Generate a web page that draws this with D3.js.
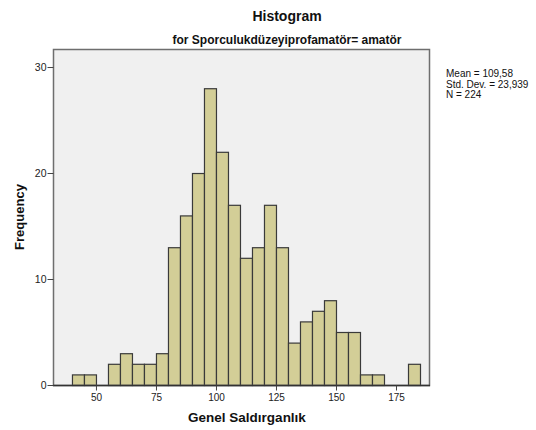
<!DOCTYPE html>
<html><head><meta charset="utf-8">
<script src="https://cdn.jsdelivr.net/npm/d3@7"></script>
<style>body{margin:0;background:#fff;font-family:"Liberation Sans",Arial,sans-serif;}</style>
</head><body>
<svg id="c" width="536" height="430"></svg>
<script>
const binStarts = [40,45,50,55,60,65,70,75,80,85,90,95,100,105,110,115,120,125,130,135,140,145,150,155,160,165,170,175,180];
const counts    = [1,1,0,2,3,2,2,3,13,16,20,28,22,17,12,13,17,13,4,6,7,8,5,5,1,1,0,0,2];
const binWidth = 5;
const xTicks = [50,75,100,125,150,175];
const yTicks = [0,10,20,30];
const statsLines = ["Mean = 109,58","Std. Dev. = 23,939","N = 224"];

const svg = d3.select("#c");
const L=53, R=429, T=49, B=385;
const x = d3.scaleLinear().domain([32.1,188.75]).range([L,R]);
const y = d3.scaleLinear().domain([0,31.7]).range([B,T]);

svg.append("rect").attr("x",L).attr("y",T).attr("width",R-L).attr("height",B-T)
  .attr("fill","#f0f0f0").attr("stroke","none");

const data = binStarts.map((s,i)=>({s, c:counts[i]})).filter(d=>d.c>0);
svg.append("g").selectAll("rect").data(data).join("rect")
  .attr("x",d=>x(d.s)+0.5).attr("y",d=>y(d.c)+0.5)
  .attr("width",d=>x(d.s+binWidth)-x(d.s)).attr("height",d=>B-y(d.c))
  .attr("fill","#d3ce97").attr("stroke","#3a3a3a").attr("stroke-width",1.2);

// frame
svg.append("rect").attr("x",L+0.5).attr("y",T+0.5).attr("width",R-L).attr("height",B-T)
  .attr("fill","none").attr("stroke","#6e6e6e").attr("stroke-width",1.5);
svg.append("line").attr("x1",L).attr("x2",R+1).attr("y1",B+0.5).attr("y2",B+0.5)
  .attr("stroke","#333").attr("stroke-width",1.5);

const yAxis = d3.axisLeft(y).tickValues(yTicks).tickSize(6).tickPadding(1).tickFormat(d3.format("d"));
const gy = svg.append("g").attr("transform",`translate(${L+0.5},0)`).call(yAxis);
gy.select(".domain").remove();
gy.selectAll(".tick line").attr("stroke","#444");
gy.selectAll("text").attr("font-family","Liberation Sans, Arial").attr("font-size",10.5).attr("fill","#222");

const xAxis = d3.axisBottom(x).tickValues(xTicks).tickSize(5).tickPadding(3);
const gx = svg.append("g").attr("transform",`translate(0,${B+0.5})`).call(xAxis);
gx.select(".domain").remove();
gx.selectAll(".tick line").attr("stroke","#444");
gx.selectAll("text").attr("font-family","Liberation Sans, Arial").attr("font-size",10).attr("fill","#222");

svg.append("text").attr("x",287).attr("y",21).attr("text-anchor","middle")
  .attr("font-size",14).attr("font-weight","bold").attr("fill","#111").text("Histogram");
svg.append("text").attr("x",287).attr("y",44).attr("text-anchor","middle")
  .attr("font-size",12).attr("font-weight","bold").attr("fill","#111").text("for Sporculukdüzeyiprofamatör= amatör");
svg.append("text").attr("x",(L+R)/2+6).attr("y",422).attr("text-anchor","middle")
  .attr("font-size",13.5).attr("font-weight","bold").attr("fill","#111").text("Genel Saldırganlık");
svg.append("text").attr("transform",`translate(24,${(T+B)/2}) rotate(-90)`).attr("text-anchor","middle")
  .attr("font-size",13).attr("font-weight","bold").attr("fill","#111").text("Frequency");

svg.append("g").selectAll("text").data(statsLines).join("text")
  .attr("x",446).attr("y",(d,i)=>77+i*10.5)
  .attr("font-size",10).attr("fill","#111").text(d=>d);
</script>
</body></html>
